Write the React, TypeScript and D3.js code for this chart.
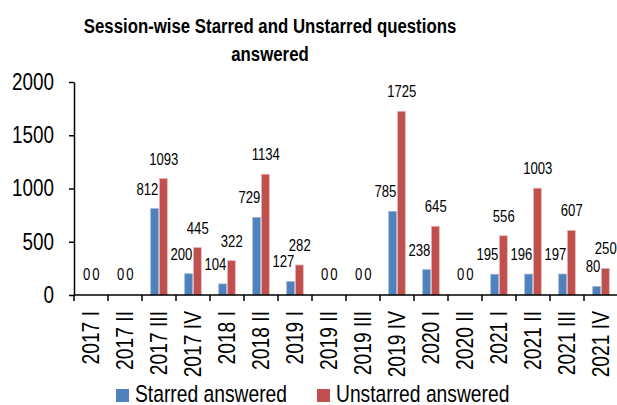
// Session-wise questions bar chart, drawn with d3 into an svg ref
import React, { useEffect, useRef } from 'react'
import * as d3 from 'd3'

const sessions = [
  '2017 I', '2017 II', '2017 III', '2017 IV', '2018 I', '2018 II', '2019 I', '2019 II',
  '2019 III', '2019 IV', '2020 I', '2020 II', '2021 I', '2021 II', '2021 III', '2021 IV',
]
const starred = [0, 0, 812, 200, 104, 729, 127, 0, 0, 785, 238, 0, 195, 196, 197, 80]
const unstarred = [0, 0, 1093, 445, 322, 1134, 282, 0, 0, 1725, 645, 0, 556, 1003, 607, 250]
const seriesNames = ['Starred answered', 'Unstarred answered']
const yTicks = [0, 500, 1000, 1500, 2000]

// no Arial Narrow here, so squeeze Liberation Sans horizontally
const FONT = "'Liberation Sans', Arial, sans-serif"
const NARROW = 0.82
const colors = ['#4F81BD', '#C0504D']
const strokes = ['#9db7dc', '#e8b4b3']

// position a text and squeeze it (rotation optional)
const place = (x: number, y: number, rot = 0) =>
  'translate(' + x + ',' + y + ')' + (rot ? ' rotate(' + rot + ')' : '') + ' scale(' + NARROW + ',1)'

export default function App() {
  const ref = useRef<SVGSVGElement>(null)

  useEffect(() => {
    const W = 617, H = 405
    const left = 74, right = 618, top = 82, bottom = 295

    const svg = d3.select(ref.current)
    svg.selectAll('*').remove()

    const x = d3.scaleBand().domain(sessions).range([left, right]).padding(0)
    const x1 = d3.scaleBand().domain(seriesNames).range([-8.3, 8.3]).paddingInner(0.1)
    const y = d3.scaleLinear().domain([0, 2000]).range([bottom, top])

    // title, two lines
    const titleLines = ['Session-wise Starred and Unstarred questions', 'answered']
    svg.append('g').selectAll('text')
      .data(titleLines)
      .join('text')
      .attr('transform', (d, i) => place(270, 33 + i * 28))
      .attr('text-anchor', 'middle')
      .style('font-family', FONT)
      .style('font-weight', 'bold')
      .style('font-size', '20.5px')
      .style('fill', '#000')
      .text(d => d)

    // bars
    const rows = sessions.map((s, i) => ({ s, vals: [starred[i], unstarred[i]] }))
    const groups = svg.append('g').selectAll('g')
      .data(rows)
      .join('g')
      .attr('transform', d => 'translate(' + (x(d.s)! + x.bandwidth() / 2) + ',0)')

    groups.selectAll('rect')
      .data(d => d.vals.map((v, k) => ({ v, k })))
      .join('rect')
      .attr('x', d => x1(seriesNames[d.k])!)
      .attr('width', x1.bandwidth())
      .attr('y', d => y(d.v))
      .attr('height', d => y(0) - y(d.v))
      .attr('fill', d => colors[d.k])
      .attr('stroke', d => strokes[d.k])
      .attr('stroke-width', 0.8)

    // value labels: starred right-aligned to its bar, unstarred centred
    groups.selectAll('text')
      .data(d => d.vals.map((v, k) => ({ v, k })))
      .join('text')
      .attr('transform', d => place(
        d.k === 0 ? x1(seriesNames[0])! + x1.bandwidth() - 0.3 : x1(seriesNames[1])! + x1.bandwidth() / 2 + 0.4,
        y(d.v) - (d.v === 0 ? 15 : 14)))
      .attr('text-anchor', d => d.k === 0 ? 'end' : 'middle')
      .style('font-family', FONT)
      .style('font-size', '16px')
      .style('fill', '#000')
      .text(d => d.v)

    // y axis
    const yAxis = svg.append('g')
      .attr('transform', 'translate(' + left + ',0)')
      .call(d3.axisLeft(y).tickValues(yTicks).tickFormat(d3.format('d')).tickSize(5).tickSizeOuter(0))
    yAxis.select('.domain').attr('stroke', '#000').attr('stroke-width', 1.5)
    yAxis.selectAll('.tick line').attr('stroke', '#000').attr('stroke-width', 1.5)
    yAxis.selectAll('.tick text')
      .attr('x', null)
      .attr('transform', place(-20, 0))
      .style('font-family', FONT)
      .style('font-size', '23px')
      .attr('fill', '#000')

    // x axis with ticks between categories
    const xAxis = svg.append('g').attr('transform', 'translate(0,' + bottom + ')')
    xAxis.append('line')
      .attr('x1', left).attr('x2', right)
      .attr('stroke', '#000').attr('stroke-width', 1.5)
    const edges = sessions.map(s => x(s)!).concat([right])
    xAxis.selectAll('.sep')
      .data(edges)
      .join('line')
      .attr('class', 'sep')
      .attr('x1', d => d).attr('x2', d => d)
      .attr('y1', 0).attr('y2', 6)
      .attr('stroke', '#000').attr('stroke-width', 1.5)
    xAxis.selectAll('.lbl')
      .data(sessions)
      .join('text')
      .attr('class', 'lbl')
      .attr('transform', d => place(x(d)! + x.bandwidth() / 2, 16, -90))
      .attr('text-anchor', 'end')
      .attr('dy', '0.36em')
      .style('font-family', FONT)
      .style('font-size', '23.5px')
      .style('fill', '#000')
      .text(d => d)

    // legend
    const legendX = [116, 317]
    const legend = svg.append('g').selectAll('g')
      .data(seriesNames)
      .join('g')
      .attr('transform', (d, i) => 'translate(' + legendX[i] + ',0)')
    legend.append('rect')
      .attr('x', 0).attr('y', 389)
      .attr('width', 13).attr('height', 13)
      .attr('fill', (d, i) => colors[i])
    legend.append('text')
      .attr('transform', place(19, 402))
      .style('font-family', FONT)
      .style('font-size', '23.5px')
      .style('fill', '#000')
      .text(d => d)

    svg.attr('width', W).attr('height', H)
  }, [])

  return (
    <svg
      ref={ref}
      width={617}
      height={405}
      style={{ position: 'absolute', left: 0, top: 0, background: '#fff' }}
    />
  )
}
